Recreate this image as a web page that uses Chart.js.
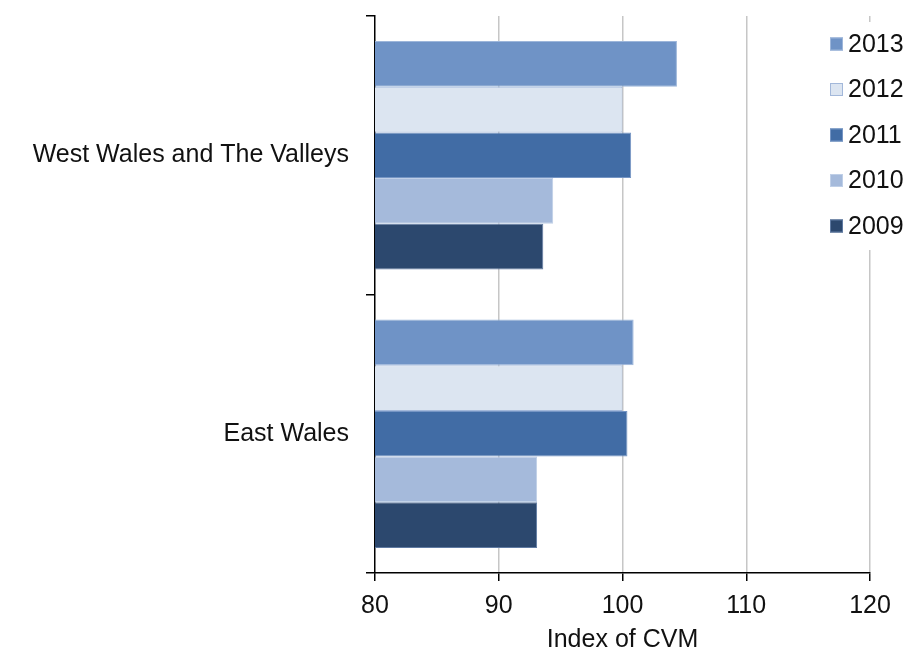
<!DOCTYPE html>
<html>
<head>
<meta charset="utf-8">
<script src="https://cdn.jsdelivr.net/npm/chart.js@4/dist/chart.umd.min.js"></script>
<style>
  html, body { margin: 0; padding: 0; background: #fff; }
</style>
</head>
<body>
<canvas id="chart" width="908" height="653"></canvas>
<script>
// Index of CVM by Welsh sub-region, 2009-2013 (horizontal bars)

const regions = ['West Wales and The Valleys', 'East Wales'];
const years = ['2013', '2012', '2011', '2010', '2009'];
const idx2013 = [104.4, 100.9];
const idx2012 = [100.0, 100.0];
const idx2011 = [100.7, 100.4];
const idx2010 = [94.4, 93.1];
const idx2009 = [93.6, 93.1];
const xTicks = [80, 90, 100, 110, 120];

const seriesValues = [idx2013, idx2012, idx2011, idx2010, idx2009];
const fills = ['#6f93c6', '#dce5f1', '#416ca5', '#a5badb', '#2c486e'];
const edges = ['#9db6da', '#a3b8da', '#7595c4', '#bfcfe7', '#5f7aa2'];

const FONT = '"Liberation Sans", Arial, sans-serif';
Chart.defaults.font.family = FONT;
Chart.defaults.color = '#111';

// Excel-style legend sitting on top of the plot area, right side
const sideLegend = {
  id: 'side-legend',
  afterDraw(chart) {
    const ctx = chart.ctx;
    ctx.save();
    ctx.fillStyle = '#fff';
    ctx.fillRect(822, 22, 86, 228);
    ctx.font = '25px ' + FONT;
    ctx.textBaseline = 'middle';
    ctx.textAlign = 'left';
    chart.data.datasets.forEach((ds, i) => {
      const y = 44 + i * 45.5;
      ctx.fillStyle = ds.backgroundColor;
      ctx.fillRect(830, y - 6.5, 13, 13);
      ctx.strokeStyle = ds.borderColor;
      ctx.lineWidth = 1;
      ctx.strokeRect(830.5, y - 6, 12, 12);
      ctx.fillStyle = '#111';
      ctx.fillText(ds.label, 848, y + 1);
    });
    ctx.restore();
  },
};

const datasets = years.map((yr, i) => ({
  label: yr,
  data: seriesValues[i],
  backgroundColor: fills[i],
  borderColor: edges[i],
  borderWidth: 1,
  barPercentage: 1,
  categoryPercentage: 0.82,
}));

new Chart(document.getElementById('chart'), {
  type: 'bar',
  data: { labels: regions, datasets },
  options: {
    indexAxis: 'y',
    responsive: false,
    animation: false,
    layout: { padding: { top: 0, right: 38, left: 0, bottom: 0 } },
    scales: {
      x: {
        type: 'linear', min: xTicks[0], max: xTicks[xTicks.length - 1],
        afterBuildTicks: (s) => { s.ticks = xTicks.map(v => ({ value: v })); },
        afterFit: (s) => { s.height = 80; },
        ticks: { font: { size: 25 }, color: '#111', padding: 10 },
        grid: {
          color: (c) => c.tick && c.tick.value === 80 ? 'rgba(0,0,0,0)' : '#c6c6c6',
          lineWidth: 1.5, tickColor: '#000', tickLength: 8,
        },
        border: { color: '#000', width: 1.5 },
        title: { display: true, text: 'Index of CVM', font: { size: 25, lineHeight: 1 }, color: '#111', padding: { top: 2, bottom: 0 } },
      },
      y: {
        afterFit: (s) => { s.width = 375; s.paddingTop = 16; s.paddingBottom = 0; },
        ticks: { font: { size: 25 }, color: '#111', padding: 17 },
        grid: { drawOnChartArea: false, tickColor: '#000', tickLength: 9, lineWidth: 1.5, offset: true },
        border: { color: '#000', width: 1.5 },
      },
    },
    plugins: {
      legend: { display: false },
      tooltip: { enabled: false },
    },
  },
  plugins: [sideLegend],
});
</script>
</body>
</html>
